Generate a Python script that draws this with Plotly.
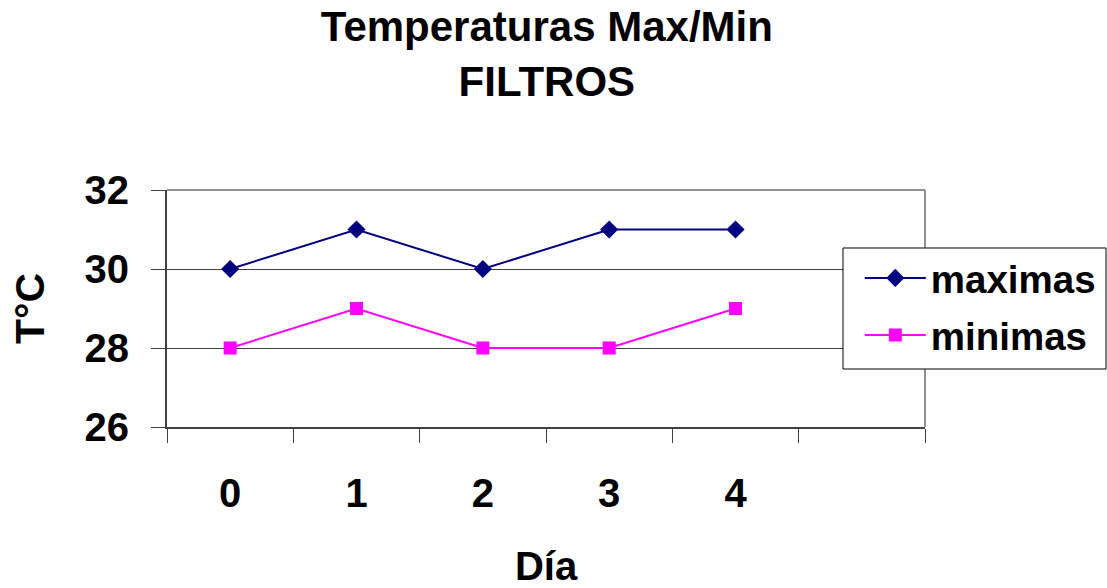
import plotly.graph_objects as go

# Daily max/min temperatures for the FILTROS series
dias = ["0", "1", "2", "3", "4"]
maximas = [30, 31, 30, 31, 31]
minimas = [28, 29, 28, 28, 29]
# category slots on the x axis (one trailing empty slot)
categorias = ["0", "1", "2", "3", "4", " "]
y_ticks = [26, 28, 30, 32]

FONT = "Arial, 'Liberation Sans', sans-serif"

fig = go.Figure()
fig.add_trace(go.Scatter(
    x=dias, y=maximas, name="<b>maximas</b>", mode="lines+markers",
    legendgroup="max",
    line=dict(color="#000080", width=2),
    marker=dict(symbol="diamond", size=14, color="#000080"),
))
fig.add_trace(go.Scatter(
    x=dias, y=minimas, name="<b>minimas</b>", mode="lines+markers",
    legendgroup="min",
    line=dict(color="#FF00FF", width=2),
    marker=dict(symbol="square", size=13, color="#FF00FF"),
))

fig.update_layout(
    width=1107, height=588,
    margin=dict(l=167, r=182, t=190, b=161, autoexpand=False),
    paper_bgcolor="white", plot_bgcolor="white",
    font=dict(family=FONT, color="black"),
    title=dict(
        text="<b>Temperaturas Max/Min<br>FILTROS</b>",
        x=0.494, xanchor="center", y=0.930, yanchor="top",
        font=dict(size=42, family=FONT),
    ),
    showlegend=True,
    legend=dict(
        x=0.914, xanchor="left", y=0.762, yanchor="top",
        bgcolor="rgba(0,0,0,0)", borderwidth=0,
        font=dict(size=38.5, family=FONT),
        itemwidth=61,
        traceorder="grouped",
        tracegroupgap=4,
    ),
    xaxis=dict(
        type="category", categoryorder="array", categoryarray=categorias,
        range=[-0.5, 5.5], tickson="boundaries",
        tickvals=categorias, ticktext=[f"<b>{c}</b>" for c in categorias],
        ticks="outside", ticklen=14, tickcolor="#404040",
        showline=True, linecolor="#404040", linewidth=2,
        showgrid=False, zeroline=False, automargin=False,
        tickfont=dict(size=40, family=FONT),
        ticklabelstandoff=30,
        title=dict(text="<b>Día</b>", font=dict(size=40, family=FONT), standoff=38),
    ),
    yaxis=dict(
        range=[26, 32], tickvals=y_ticks, ticktext=[f"<b>{v}</b>" for v in y_ticks],
        ticks="outside", ticklen=14, tickcolor="#404040",
        showline=True, linecolor="#404040", linewidth=2,
        showgrid=True, gridcolor="#404040", gridwidth=1,
        zeroline=False, automargin=False,
        tickfont=dict(size=40, family=FONT),
        ticklabelstandoff=14,
        title=dict(text="<b>T°C</b>", font=dict(size=41, family=FONT), standoff=27),
    ),
)

# gray frame on the top and right sides of the plotting area
fig.add_shape(type="line", xref="x domain", yref="y domain",
              x0=0, x1=1, y0=1, y1=1, line=dict(color="#909090", width=2), layer="above")
fig.add_shape(type="line", xref="x domain", yref="y domain",
              x0=1, x1=1, y0=0, y1=1, line=dict(color="#909090", width=2), layer="above")
# legend frame, running off the right edge of the page
fig.add_shape(type="rect", xref="paper", yref="paper",
              x0=0.8918, x1=1.2388, y0=0.2447, y1=0.7553,
              line=dict(color="black", width=1), fillcolor="white", layer="above")

fig.write_html("out.html")
